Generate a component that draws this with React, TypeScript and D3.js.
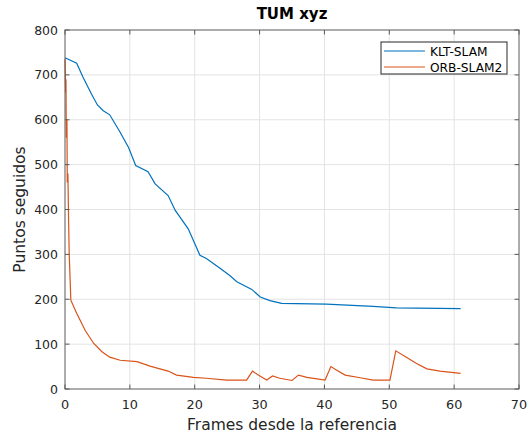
import React, { useEffect, useRef } from 'react';
import * as d3 from 'd3';

// KLT-SLAM: frame / tracked points
const kltFrames = [0, 1.8, 2.8, 4.1, 5.0, 5.9, 6.9, 8.5, 9.8, 10.9, 12.8, 13.9, 15.9, 17.0, 19.0, 20.8, 21.8, 23.9, 25.4, 26.5, 28.8, 30.1, 31.6, 33.4, 40.3, 47.5, 51.1, 61];
const kltValues = [738, 726, 694, 657, 633, 620, 611, 572, 538, 498, 484, 457, 431, 398, 357, 298, 291, 269, 253, 239, 222, 205, 197, 191, 189, 184, 181, 179];

// ORB-SLAM2
const orbFrames = [0, 0.05, 0.1, 0.15, 0.2, 0.3, 0.35, 0.45, 0.55, 0.65, 0.75, 0.9, 1.8, 3.1, 4.4, 5.7, 6.9, 8.5, 11.1, 13.1, 15.9, 17.2, 19.8, 21.8, 24.9, 28.0, 28.9, 29.8, 31.1, 32.0, 33.1, 35.0, 36.0, 37.3, 40.1, 41.0, 41.9, 43.2, 45.5, 47.5, 50.1, 51.0, 52.7, 54.2, 55.8, 57.8, 61];
const orbValues = [735, 700, 660, 690, 560, 600, 460, 480, 380, 300, 260, 198, 169, 131, 102, 83, 71, 64, 61, 51, 40, 31, 26, 24, 20, 20, 40, 31, 20, 29, 24, 19, 31, 26, 20, 50, 42, 31, 25, 20, 20, 85, 70, 57, 45, 40, 35];

const xTicks = [0, 10, 20, 30, 40, 50, 60, 70];
const yTicks = [0, 100, 200, 300, 400, 500, 600, 700, 800];

const seriesNames = ['KLT-SLAM', 'ORB-SLAM2'];
const seriesColors = ['#0072BD', '#D95319'];

const W = 529;
const H = 437;
const font = 'DejaVu Sans, sans-serif';

const drawChart = (container: SVGSVGElement) => {
  const svg = d3.select(container);
  svg.selectAll('*').remove();
  svg.attr('width', W).attr('height', H);

  const left = 65, right = 519, top = 30, bottom = 389;
  const x = d3.scaleLinear().domain([0, 70]).range([left, right]);
  const y = d3.scaleLinear().domain([0, 800]).range([bottom, top]);

  svg.append('rect').attr('width', W).attr('height', H).attr('fill', '#fff');

  // grid
  const grid = svg.append('g').attr('stroke', '#e3e3e3').attr('stroke-width', 1);
  xTicks.slice(1, -1).forEach(t => {
    grid.append('line').attr('x1', x(t)).attr('x2', x(t)).attr('y1', top).attr('y2', bottom);
  });
  yTicks.slice(1, -1).forEach(t => {
    grid.append('line').attr('x1', left).attr('x2', right).attr('y1', y(t)).attr('y2', y(t));
  });

  // lines
  const series = [
    kltFrames.map((f, i) => [f, kltValues[i]] as [number, number]),
    orbFrames.map((f, i) => [f, orbValues[i]] as [number, number]),
  ];
  const line = d3.line<[number, number]>().x(d => x(d[0])).y(d => y(d[1]));
  series.forEach((s, i) => {
    svg.append('path')
      .attr('d', line(s))
      .attr('fill', 'none')
      .attr('stroke', seriesColors[i])
      .attr('stroke-width', 1.2);
  });

  // box + inner ticks
  const axisColor = '#5a5a5a';
  svg.append('rect')
    .attr('x', left).attr('y', top)
    .attr('width', right - left).attr('height', bottom - top)
    .attr('fill', 'none').attr('stroke', axisColor).attr('stroke-width', 1);
  const tl = 4.5;
  const ticks = svg.append('g').attr('stroke', axisColor).attr('stroke-width', 1);
  xTicks.forEach(t => {
    ticks.append('line').attr('x1', x(t)).attr('x2', x(t)).attr('y1', bottom).attr('y2', bottom - tl);
    ticks.append('line').attr('x1', x(t)).attr('x2', x(t)).attr('y1', top).attr('y2', top + tl);
  });
  yTicks.forEach(t => {
    ticks.append('line').attr('x1', left).attr('x2', left + tl).attr('y1', y(t)).attr('y2', y(t));
    ticks.append('line').attr('x1', right).attr('x2', right - tl).attr('y1', y(t)).attr('y2', y(t));
  });

  // tick labels
  const labelColor = '#262626';
  svg.append('g').selectAll('text').data(xTicks).enter().append('text')
    .attr('x', d => x(d)).attr('y', bottom + 20)
    .attr('text-anchor', 'middle')
    .attr('font-family', font).attr('font-size', 12.8).attr('fill', labelColor)
    .text(d => d);
  svg.append('g').selectAll('text').data(yTicks).enter().append('text')
    .attr('x', left - 7).attr('y', d => y(d) + 4.5)
    .attr('text-anchor', 'end')
    .attr('font-family', font).attr('font-size', 12.5).attr('fill', labelColor)
    .text(d => d);

  // axis labels and title
  svg.append('text')
    .attr('x', (left + right) / 2).attr('y', bottom + 41)
    .attr('text-anchor', 'middle')
    .attr('font-family', font).attr('font-size', 15.5).attr('fill', labelColor)
    .text('Frames desde la referencia');
  svg.append('text')
    .attr('transform', `translate(25,${(top + bottom) / 2}) rotate(-90)`)
    .attr('text-anchor', 'middle')
    .attr('font-family', font).attr('font-size', 15.5).attr('fill', labelColor)
    .text('Puntos seguidos');
  svg.append('text')
    .attr('x', 292).attr('y', 19)
    .attr('text-anchor', 'middle')
    .attr('font-family', font).attr('font-size', 15).attr('font-weight', 'bold').attr('fill', '#000')
    .text('TUM xyz');

  // legend
  const lg = svg.append('g');
  lg.append('rect')
    .attr('x', 381).attr('y', 42).attr('width', 126).attr('height', 32)
    .attr('fill', '#fff').attr('stroke', '#262626').attr('stroke-width', 1);
  seriesNames.forEach((name, i) => {
    const ly = 51 + i * 16;
    lg.append('line')
      .attr('x1', 384).attr('x2', 425).attr('y1', ly).attr('y2', ly)
      .attr('stroke', seriesColors[i]).attr('stroke-width', 1.2);
    lg.append('text')
      .attr('x', 430).attr('y', ly + 4.5)
      .attr('font-family', font).attr('font-size', 12.2).attr('fill', '#000')
      .text(name);
  });
};

const App = () => {
  const ref = useRef<SVGSVGElement>(null);
  useEffect(() => {
    if (ref.current) drawChart(ref.current);
  }, []);
  return (
    <div style={{ position: 'fixed', left: 0, top: 0 }}>
      <svg ref={ref} style={{ display: 'block' }} />
    </div>
  );
};

export default App;
